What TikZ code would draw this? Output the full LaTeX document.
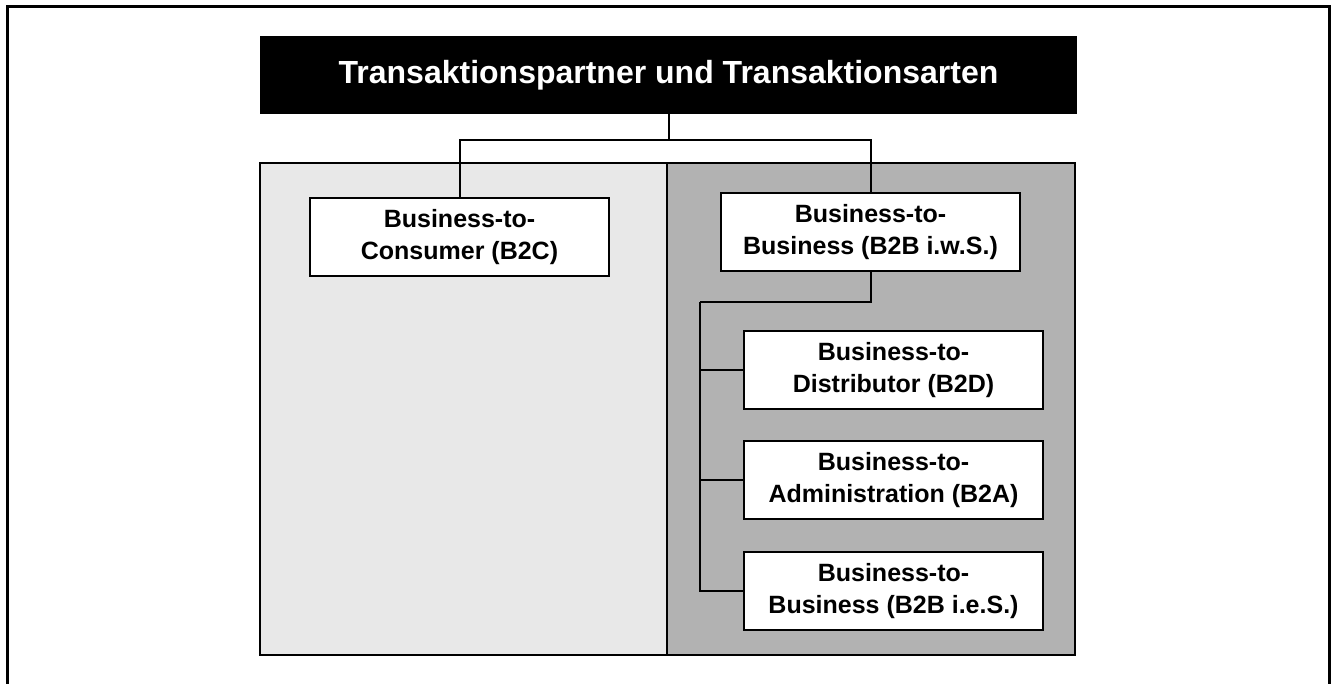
\documentclass[tikz,border=0pt]{standalone}
\usepackage{fontspec}
\setmainfont{Liberation Sans}
\usepackage{tikz}
\usetikzlibrary{positioning}
\definecolor{paneLight}{HTML}{E8E8E8}
\definecolor{paneDark}{HTML}{B2B2B2}
\tikzset{
  partbox/.style={draw, line width=1pt, fill=white, minimum width=149.5pt, minimum height=39pt,
    inner sep=0pt, align=center, font=\fontsize{12.5}{16}\selectfont\bfseries},
  titlebox/.style={fill=black, text=white, minimum width=408.5pt, minimum height=39pt,
    inner sep=0pt, font=\fontsize{16}{19}\selectfont\bfseries},
  link/.style={line width=1pt}
}
\begin{document}
\begin{tikzpicture}[x=0.5pt,y=-0.5pt]
        \useasboundingbox (0,0) rectangle (1331,684);

        % outer frame, open at the bottom
        \draw[line width=1.5pt] (7,684) -- (7,7) -- (1329,7) -- (1329,684);

        % the two panels
        \draw[line width=1pt, fill=paneLight] (260,163) rectangle (667,655);
        \draw[line width=1pt, fill=paneDark] (667,163) rectangle (1075,655);

        \node[titlebox] (title) at (668.5,75) {Transaktionspartner und Transaktionsarten};

        \node[partbox] (b2c) at (459.5,237) {Business-to-\\Consumer (B2C)};
        \node[partbox] (b2biws) at (870.5,232) {Business-to-\\Business (B2B i.w.S.)};

        \node[partbox] (b2d) at (893.5,370) {Business-to-\\Distributor (B2D)};
        \node[partbox] (b2a) at (893.5,480) {Business-to-\\Administration (B2A)};
        \node[partbox] (b2bies) at (893.5,591) {Business-to-\\Business (B2B i.e.S.)};

        % title to the two main kinds
        \coordinate (split) at (668.5,140);
        \draw[link] (title.south) -- (split);
        \draw[link] (b2c.north) |- (split) -| (b2biws.north);

        % B2B i.w.S. to its sub kinds
        \coordinate (spine) at (700,302);
        \draw[link] (b2biws.south) |- (spine);
        \foreach \n in {b2d,b2a,b2bies}
          \draw[link] (spine) |- (\n.west);

    \end{tikzpicture}
\end{document}
